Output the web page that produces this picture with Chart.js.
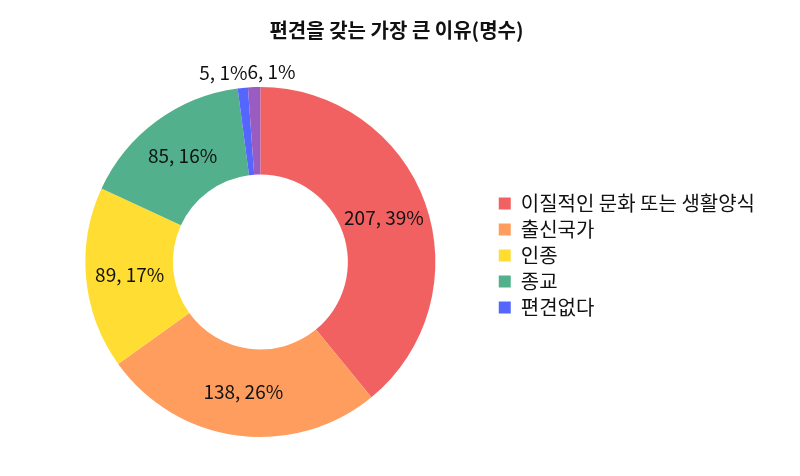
<!DOCTYPE html>
<html>
<head>
<meta charset="utf-8">
<script src="https://cdn.jsdelivr.net/npm/chart.js@4.4.1/dist/chart.umd.min.js"></script>
<style>
  html, body { margin: 0; padding: 0; background: #fff; }
  #wrap { width: 800px; height: 476px; }
</style>
</head>
<body>
<div id="wrap"><canvas id="reasonChart"></canvas></div>
<script>
const titleText = '편견을 갖는 가장 큰 이유(명수)';
// the 6th slice has no legend entry in the original
const labels = ['이질적인 문화 또는 생활양식', '출신국가', '인종', '종교', '편견없다'];
const counts = [207, 138, 89, 85, 5, 6];
const colors = ['#F26161', '#FF9D5E', '#FFDD33', '#52B08C', '#5566FF', '#9B5CC2'];

const FONT = "'Noto Sans CJK KR', 'Noto Sans', sans-serif";

// value labels: "count, pct%" drawn on each slice
const sliceLabels = {
  id: 'sliceLabels',
  afterDatasetsDraw(chart) {
    const ctx = chart.ctx;
    const meta = chart.getDatasetMeta(0);
    const data = chart.data.datasets[0].data;
    const total = data.reduce((a, b) => a + b, 0);
    ctx.save();
    ctx.font = '19px ' + FONT;
    ctx.fillStyle = '#111';
    ctx.textBaseline = 'middle';
    const small = [];
    meta.data.forEach((arc, i) => {
      const p = arc.getProps(['x', 'y', 'startAngle', 'endAngle', 'innerRadius', 'outerRadius'], true);
      const mid = (p.startAngle + p.endAngle) / 2;
      const txt = data[i] + ', ' + Math.round(data[i] / total * 100) + '%';
      if (data[i] / total < 0.03) {
        const r = p.outerRadius + 15;
        small.push({ txt, x: p.x + Math.cos(mid) * r, y: p.y + Math.sin(mid) * r });
        return;
      }
      const r = (p.innerRadius + p.outerRadius) / 2;
      ctx.textAlign = 'center';
      ctx.fillText(txt, p.x + Math.cos(mid) * r, p.y + Math.sin(mid) * r);
    });
    // small neighbouring slices: split around their shared middle
    if (small.length === 2) {
      const cx = (small[0].x + small[1].x) / 2;
      ctx.textAlign = 'right';
      ctx.fillText(small[0].txt, cx, small[0].y);
      ctx.textAlign = 'left';
      ctx.fillText(small[1].txt, cx, small[1].y);
    } else {
      ctx.textAlign = 'center';
      small.forEach(s => ctx.fillText(s.txt, s.x, s.y));
    }
    ctx.restore();
  }
};

new Chart(document.getElementById('reasonChart'), {
  type: 'doughnut',
  data: {
    labels: labels,
    datasets: [{
      data: counts,
      backgroundColor: colors,
      borderWidth: 0
    }]
  },
  options: {
    responsive: true,
    maintainAspectRatio: false,
    animation: false,
    cutout: '50%',
    layout: {
      padding: { top: 74, bottom: 39, left: 28, right: 35 }
    },
    plugins: {
      title: {
        display: true,
        text: titleText,
        color: '#111',
        font: { family: FONT, size: 20, weight: 'bold' },
        // pulled up above the layout padding so the legend can centre lower
        padding: { top: -56, bottom: 45 }
      },
      legend: {
        position: 'right',
        labels: {
          color: '#111',
          boxWidth: 12,
          boxHeight: 12,
          padding: 6,
          font: { family: FONT, size: 20 }
        }
      },
      tooltip: { enabled: false }
    }
  },
  plugins: [sliceLabels]
});
</script>
</body>
</html>
